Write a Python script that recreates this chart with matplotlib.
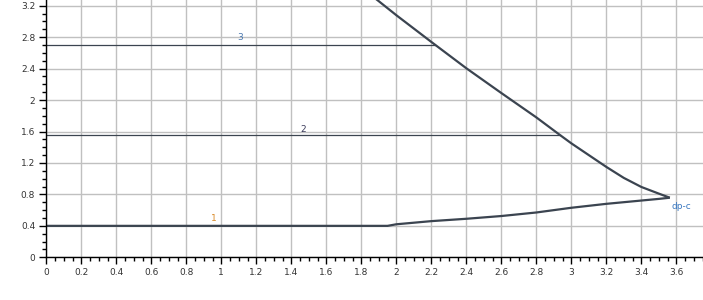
import matplotlib
matplotlib.use("Agg")
import matplotlib.pyplot as plt
from matplotlib.ticker import MultipleLocator, FuncFormatter

# ---- data ----
upper_x = [1.87, 1.893, 2.0, 2.2, 2.4, 2.6, 2.8, 2.935, 3.0, 3.1, 3.2, 3.3, 3.4, 3.5, 3.563]
upper_y = [3.31, 3.27, 3.08, 2.74, 2.405, 2.09, 1.78, 1.556, 1.45, 1.30, 1.15, 1.01, 0.895, 0.81, 0.758]

lower_x = [0.0, 1.95, 2.0, 2.2, 2.4, 2.6, 2.8, 3.0, 3.1, 3.2, 3.4, 3.5, 3.563]
lower_y = [0.40, 0.40, 0.42, 0.46, 0.49, 0.525, 0.57, 0.63, 0.655, 0.68, 0.722, 0.743, 0.758]

hline_labels = ["2", "3"]
hline_y = [1.556, 2.70]
hline_xend = [2.935, 2.22]

label_text = ["1", "2", "3", "dp-c"]
label_x = [0.96, 1.47, 1.11, 3.63]
label_y = [0.49, 1.63, 2.79, 0.65]
label_colors = ["#d98a2a", "#3a3a5a", "#4a78b0", "#3a78c0"]

line_color = "#3b4450"

fig = plt.figure(figsize=(7.03, 3.0), dpi=100)
ax = fig.add_axes([46.3 / 703, 42.7 / 300, 700 / 703, 283 / 300])
ax.set_xlim(0, 4)
ax.set_ylim(0, 3.6)

ax.xaxis.set_major_locator(MultipleLocator(0.2))
ax.xaxis.set_minor_locator(MultipleLocator(0.05))
ax.yaxis.set_major_locator(MultipleLocator(0.4))
ax.yaxis.set_minor_locator(MultipleLocator(0.1))
fmt = FuncFormatter(lambda v, p: "%g" % round(v, 2))
ax.xaxis.set_major_formatter(fmt)
ax.yaxis.set_major_formatter(fmt)

ax.grid(True, which="major", color="#c0c0c0", linewidth=1.0)
ax.set_axisbelow(True)
for s in ["top", "right"]:
    ax.spines[s].set_visible(False)
for s in ["left", "bottom"]:
    ax.spines[s].set_color("black")
    ax.spines[s].set_linewidth(1.0)

ax.tick_params(which="major", direction="out", length=5, width=1, color="black",
               labelsize=6.5, labelcolor="#333333", pad=3)
ax.tick_params(which="minor", direction="out", length=3, width=1, color="black")

ax.plot(upper_x, upper_y, color=line_color, linewidth=1.6, solid_capstyle="butt",
        solid_joinstyle="round")
ax.plot(lower_x, lower_y, color=line_color, linewidth=1.6, solid_capstyle="butt",
        solid_joinstyle="round")
for y, xe in zip(hline_y, hline_xend):
    ax.plot([0, xe], [y, y], color=line_color, linewidth=0.9)

for t, x, y, c in zip(label_text, label_x, label_y, label_colors):
    ax.text(x, y, t, color=c, fontsize=6.5, ha="center", va="center")

fig.savefig("out.png", dpi=100)
